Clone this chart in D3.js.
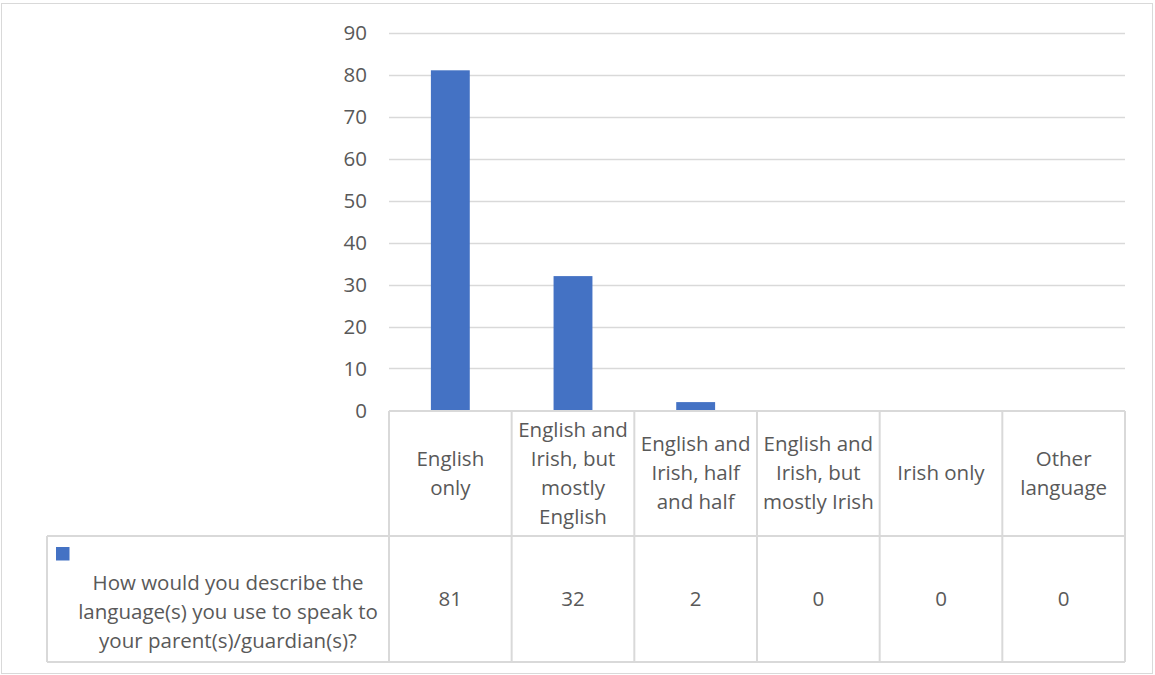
<!DOCTYPE html>
<html>
<head>
<meta charset="utf-8">
<script src="https://cdn.jsdelivr.net/npm/d3@7"></script>
<style>
  html, body { margin: 0; padding: 0; background: #ffffff; }
  svg { display: block; }
  text { font-family: "Open Sans", Lato, sans-serif; fill: #595959; }
</style>
</head>
<body>
<svg id="chart" width="1155" height="675"></svg>
<script>
// ---- data ----
const categories = [
  "English only",
  "English and Irish, but mostly English",
  "English and Irish, half and half",
  "English and Irish, but mostly Irish",
  "Irish only",
  "Other language"
];
// wrapped label lines as shown in the data table header
const categoryLines = [
  ["English", "only"],
  ["English and", "Irish, but", "mostly", "English"],
  ["English and", "Irish, half", "and half"],
  ["English and", "Irish, but", "mostly Irish"],
  ["Irish only"],
  ["Other", "language"]
];
const values = [81, 32, 2, 0, 0, 0];
const seriesName = "How would you describe the language(s) you use to speak to your parent(s)/guardian(s)?";
const seriesNameLines = ["How would you describe the", "language(s) you use to speak to", "your parent(s)/guardian(s)?"];
const yTicks = [0, 10, 20, 30, 40, 50, 60, 70, 80, 90];

// ---- layout ----
const W = 1155, H = 675;
const plotL = 389, plotR = 1125, plotT = 32.5, plotB = 410.5;
const tableRow1 = 536, tableBottom = 662, legendL = 47;
const fontSize = 20.5;
const lineH = 29;
const grid = "#d9d9d9";
const barColor = "#4472c4";
const fontFam = "'Open Sans', Lato, sans-serif";

const svg = d3.select("#chart");

// outer chart border
svg.append("rect").attr("x", 1.5).attr("y", 3.5).attr("width", 1151).attr("height", 670)
  .attr("fill", "#fff").attr("stroke", grid).attr("stroke-width", 1);

const x = d3.scaleBand().domain(categories).range([plotL, plotR]).paddingInner(0).paddingOuter(0);
const y = d3.scaleLinear().domain([0, 90]).range([plotB, plotT]);

// gridlines
svg.append("g").selectAll("line").data(yTicks.filter(d => d > 0)).join("line")
  .attr("x1", plotL).attr("x2", plotR)
  .attr("y1", d => Math.round(y(d)) + 0.5).attr("y2", d => Math.round(y(d)) + 0.5)
  .attr("stroke", grid).attr("stroke-width", 1.3);

// y axis labels
const yAxis = d3.axisLeft(y).tickValues(yTicks).tickSize(0).tickPadding(22).tickFormat(d3.format("d"));
const gY = svg.append("g").attr("transform", `translate(${plotL},0)`).call(yAxis);
gY.select(".domain").remove();
gY.selectAll("text").style("font-family", fontFam)
  .style("font-size", fontSize + "px").attr("fill", "#595959");

// bars
const barW = x.bandwidth() * 0.317;
svg.append("g").selectAll("rect").data(values).join("rect")
  .attr("x", (d, i) => x(categories[i]) + x.bandwidth() / 2 - barW / 2)
  .attr("y", d => y(d))
  .attr("width", barW)
  .attr("height", d => y(0) - y(d))
  .attr("fill", barColor);

// ---- data table ----
const tbl = svg.append("g").attr("stroke", grid).attr("stroke-width", 2).attr("fill", "none");
tbl.append("line").attr("x1", plotL).attr("x2", plotR).attr("y1", plotB + 0.5).attr("y2", plotB + 0.5);
tbl.append("line").attr("x1", legendL).attr("x2", plotR).attr("y1", tableRow1).attr("y2", tableRow1);
tbl.append("line").attr("x1", legendL).attr("x2", plotR).attr("y1", tableBottom).attr("y2", tableBottom);
const colEdges = categories.map(c => x(c)).concat([plotR]);
tbl.selectAll("line.v").data(colEdges).join("line").attr("class", "v")
  .attr("x1", d => d).attr("x2", d => d).attr("y1", plotB + 0.5).attr("y2", tableBottom);
tbl.append("line").attr("x1", legendL).attr("x2", legendL).attr("y1", tableRow1).attr("y2", tableBottom);

// header labels
const headerMid = (plotB + tableRow1) / 2;
const hdr = svg.append("g");
categories.forEach((c, i) => {
  const lines = categoryLines[i];
  const t = hdr.append("text")
    .attr("x", x(c) + x.bandwidth() / 2)
    .attr("text-anchor", "middle")
    .style("font-size", fontSize + "px");
  lines.forEach((ln, j) => {
    t.append("tspan").attr("x", x(c) + x.bandwidth() / 2)
      .attr("y", headerMid + (j - (lines.length - 1) / 2) * lineH)
      .attr("dy", "0.35em").text(ln);
  });
});

// values row
const valMid = (tableRow1 + tableBottom) / 2;
svg.append("g").selectAll("text").data(values).join("text")
  .attr("x", (d, i) => x(categories[i]) + x.bandwidth() / 2)
  .attr("y", valMid).attr("dy", "0.35em")
  .attr("text-anchor", "middle")
  .style("font-size", fontSize + "px")
  .text(d => d);

// legend key + series name
svg.append("rect").attr("x", 56).attr("y", 547).attr("width", 13.5).attr("height", 13.5).attr("fill", barColor);
const lt = svg.append("text").attr("text-anchor", "middle").style("font-size", fontSize + "px");
seriesNameLines.forEach((ln, j) => {
  lt.append("tspan").attr("x", 228).attr("y", 583 + j * lineH).attr("dy", "0.35em").text(ln);
});
</script>
</body>
</html>
